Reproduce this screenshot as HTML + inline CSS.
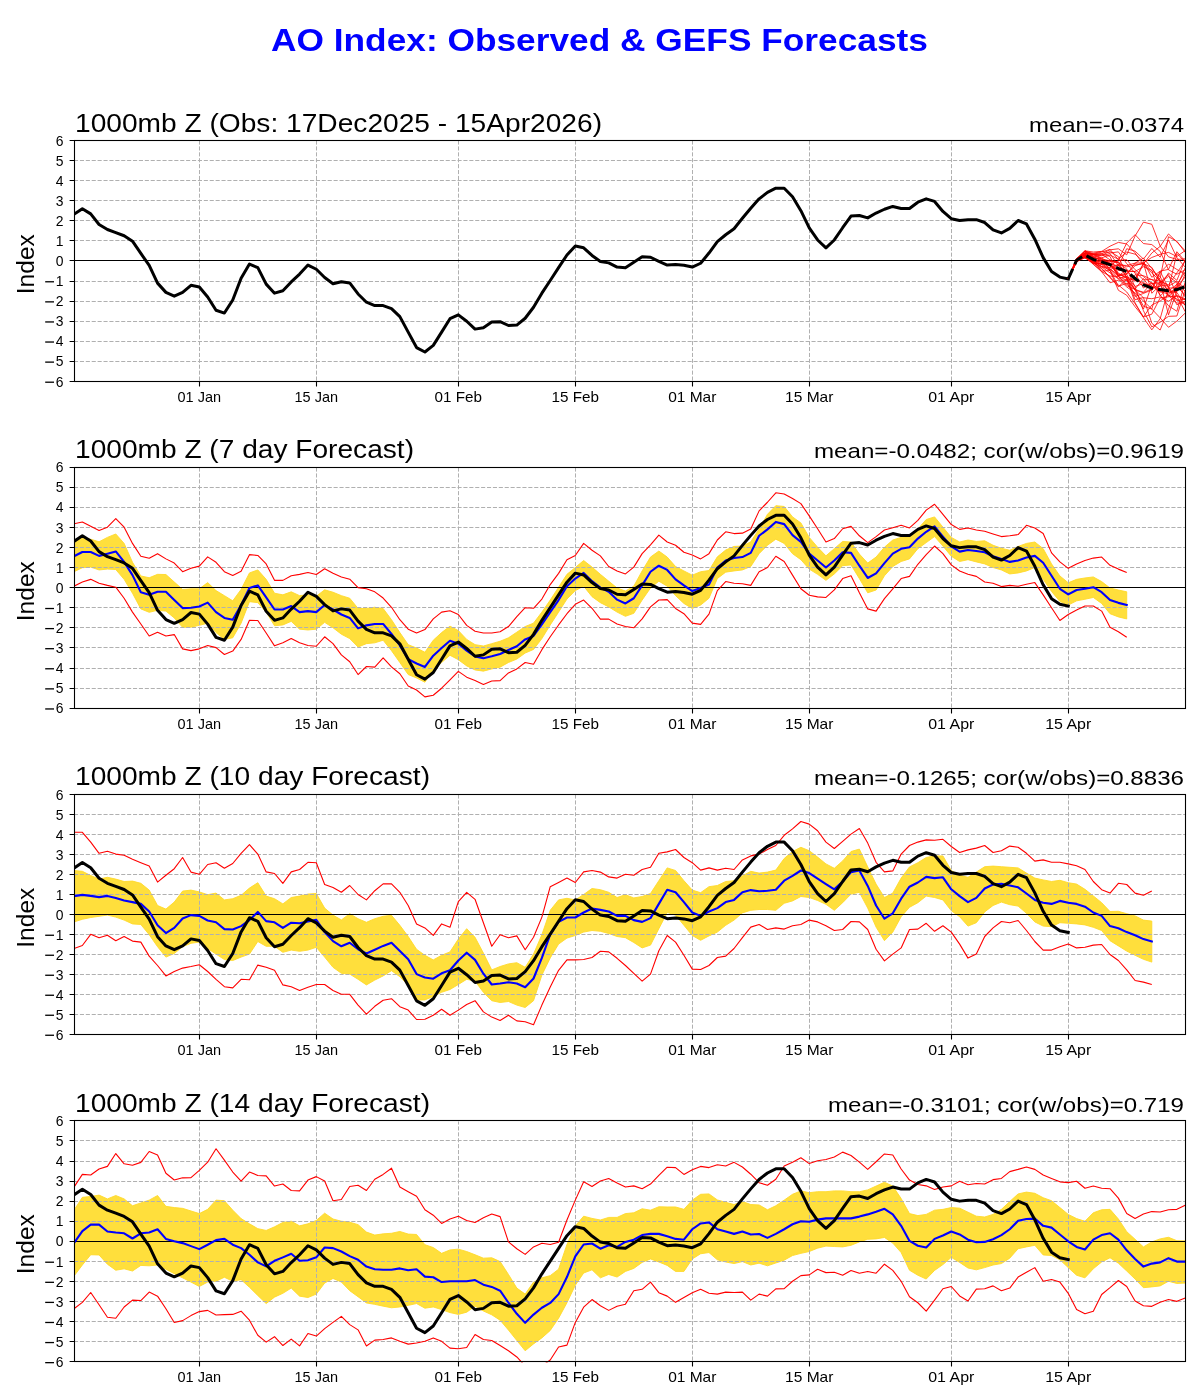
<!DOCTYPE html><html><head><meta charset="utf-8"><style>html,body{margin:0;padding:0;background:#fff;}svg{display:block;will-change:transform;}</style></head><body>
<svg width="1200" height="1400" viewBox="0 0 1200 1400" font-family='"Liberation Sans", sans-serif'>
<rect width="1200" height="1400" fill="#fff"/>
<text x="599.5" y="51" text-anchor="middle" font-size="30.6" font-weight="bold" fill="#0000ff" textLength="657" lengthAdjust="spacingAndGlyphs">AO Index: Observed &amp; GEFS Forecasts</text>
<text x="75.00" y="132.00" font-size="25" fill="#000" textLength="527.00" lengthAdjust="spacingAndGlyphs">1000mb Z (Obs: 17Dec2025 - 15Apr2026)</text>
<text x="1029.00" y="132.00" font-size="20.83" fill="#000" textLength="155.00" lengthAdjust="spacingAndGlyphs">mean=-0.0374</text>
<text transform="translate(34,264.2) rotate(-90)" text-anchor="middle" font-size="23.5" fill="#000" textLength="60" lengthAdjust="spacingAndGlyphs">Index</text>
<clipPath id="c0"><rect x="74.0" y="140.95" width="1111.2" height="241.00"/></clipPath>
<g clip-path="url(#c0)">
<path d="M74.0,361.5H1185.2M74.0,341.5H1185.2M74.0,321.5H1185.2M74.0,301.5H1185.2M74.0,281.5H1185.2M74.0,240.5H1185.2M74.0,220.5H1185.2M74.0,200.5H1185.2M74.0,180.5H1185.2M74.0,160.5H1185.2M199.5,140.5V381.5M316.5,140.5V381.5M458.5,140.5V381.5M575.5,140.5V381.5M692.5,140.5V381.5M809.5,140.5V381.5M951.5,140.5V381.5M1068.5,140.5V381.5" stroke="#b0b0b0" stroke-width="1.0" stroke-dasharray="4.1,1.8" fill="none"/>
<path d="M74.0,260.5H1185.2" stroke="#000" stroke-width="1.0" fill="none"/>
<path d="M74.00,214.28 L82.36,208.66 L90.71,213.87 L99.06,224.51 L107.42,229.53 L115.78,232.54 L124.13,235.76 L132.49,241.18 L140.84,253.42 L149.19,265.47 L157.55,283.13 L165.91,292.37 L174.26,296.18 L182.62,292.37 L190.97,285.34 L199.32,286.95 L207.68,296.99 L216.03,310.23 L224.39,313.05 L232.75,300.00 L241.10,278.32 L249.46,264.06 L257.81,267.68 L266.17,284.14 L274.52,293.17 L282.88,290.76 L291.23,281.93 L299.59,274.10 L307.94,265.07 L316.30,269.28 L324.65,277.51 L333.00,283.74 L341.36,281.73 L349.72,282.93 L358.07,293.97 L366.43,302.20 L374.78,305.62 L383.13,305.62 L391.49,308.63 L399.85,316.66 L408.20,332.12 L416.56,347.57 L424.91,351.99 L433.27,345.37 L441.62,332.12 L449.98,318.67 L458.33,314.85 L466.69,321.28 L475.04,329.11 L483.40,327.70 L491.75,322.08 L500.11,321.68 L508.46,325.49 L516.82,325.09 L525.17,318.26 L533.53,307.22 L541.88,293.17 L550.24,280.52 L558.59,267.68 L566.95,255.03 L575.30,245.99 L583.65,247.80 L592.01,255.43 L600.37,261.45 L608.72,262.86 L617.08,267.07 L625.43,267.68 L633.79,262.26 L642.14,256.84 L650.50,257.24 L658.85,261.45 L667.21,265.07 L675.56,264.46 L683.92,265.27 L692.27,267.07 L700.62,263.26 L708.98,253.02 L717.34,241.58 L725.69,234.75 L734.05,228.73 L742.40,218.29 L750.75,208.25 L759.11,198.82 L767.47,192.39 L775.82,188.18 L784.18,188.18 L792.53,196.81 L800.88,210.66 L809.24,227.93 L817.60,239.97 L825.95,247.80 L834.31,239.97 L842.66,227.73 L851.01,216.08 L859.37,215.48 L867.73,217.89 L876.08,213.07 L884.44,209.26 L892.79,206.45 L901.15,208.45 L909.50,208.45 L917.86,202.23 L926.21,198.82 L934.57,201.43 L942.92,211.47 L951.28,218.69 L959.63,220.50 L967.99,219.70 L976.34,219.70 L984.70,222.51 L993.05,229.93 L1001.41,232.95 L1009.76,228.33 L1018.12,220.50 L1026.47,223.91 L1034.83,239.17 L1043.18,257.64 L1051.54,271.49 L1059.89,277.11 L1068.24,278.92" stroke="#000" stroke-width="3" fill="none" stroke-linejoin="round" stroke-linecap="square"/>
<path d="M1068.24,278.92 L1076.60,260.07 L1084.95,255.55 L1093.31,263.25 L1101.66,266.65 L1110.02,267.62 L1118.38,264.30 L1126.73,277.32 L1135.09,296.46 L1143.44,293.43 L1151.80,289.90 L1160.15,272.55 L1168.51,264.05 L1176.86,269.48 L1185.22,274.15" stroke="#ff0000" stroke-width="0.8" fill="none" stroke-linejoin="round"/>
<path d="M1068.24,278.92 L1076.60,259.40 L1084.95,255.36 L1093.31,259.59 L1101.66,261.51 L1110.02,266.02 L1118.38,270.31 L1126.73,271.07 L1135.09,271.44 L1143.44,266.69 L1151.80,270.34 L1160.15,296.11 L1168.51,287.39 L1176.86,304.82 L1185.22,301.12" stroke="#ff0000" stroke-width="0.8" fill="none" stroke-linejoin="round"/>
<path d="M1068.24,278.92 L1076.60,261.72 L1084.95,257.41 L1093.31,254.22 L1101.66,255.76 L1110.02,253.58 L1118.38,265.63 L1126.73,271.03 L1135.09,271.70 L1143.44,279.81 L1151.80,279.58 L1160.15,281.10 L1168.51,296.38 L1176.86,286.92 L1185.22,294.91" stroke="#ff0000" stroke-width="0.8" fill="none" stroke-linejoin="round"/>
<path d="M1068.24,278.92 L1076.60,258.89 L1084.95,252.49 L1093.31,254.25 L1101.66,257.79 L1110.02,255.06 L1118.38,259.24 L1126.73,252.01 L1135.09,254.16 L1143.44,261.49 L1151.80,277.28 L1160.15,271.15 L1168.51,269.38 L1176.86,251.69 L1185.22,261.22" stroke="#ff0000" stroke-width="0.8" fill="none" stroke-linejoin="round"/>
<path d="M1068.24,278.92 L1076.60,259.41 L1084.95,253.11 L1093.31,256.81 L1101.66,260.86 L1110.02,268.68 L1118.38,275.31 L1126.73,273.41 L1135.09,265.76 L1143.44,262.87 L1151.80,257.46 L1160.15,254.35 L1168.51,252.35 L1176.86,256.51 L1185.22,250.55" stroke="#ff0000" stroke-width="0.8" fill="none" stroke-linejoin="round"/>
<path d="M1068.24,278.92 L1076.60,259.84 L1084.95,250.97 L1093.31,254.22 L1101.66,252.07 L1110.02,249.29 L1118.38,259.90 L1126.73,243.07 L1135.09,234.65 L1143.44,243.55 L1151.80,244.59 L1160.15,251.34 L1168.51,269.84 L1176.86,274.24 L1185.22,269.76" stroke="#ff0000" stroke-width="0.8" fill="none" stroke-linejoin="round"/>
<path d="M1068.24,278.92 L1076.60,259.11 L1084.95,250.61 L1093.31,256.23 L1101.66,255.13 L1110.02,251.51 L1118.38,256.63 L1126.73,274.44 L1135.09,290.03 L1143.44,292.73 L1151.80,288.69 L1160.15,271.36 L1168.51,288.18 L1176.86,287.46 L1185.22,276.87" stroke="#ff0000" stroke-width="0.8" fill="none" stroke-linejoin="round"/>
<path d="M1068.24,278.92 L1076.60,261.13 L1084.95,252.78 L1093.31,254.46 L1101.66,259.18 L1110.02,263.76 L1118.38,266.06 L1126.73,248.71 L1135.09,251.13 L1143.44,259.06 L1151.80,248.47 L1160.15,257.13 L1168.51,239.98 L1176.86,257.60 L1185.22,267.18" stroke="#ff0000" stroke-width="0.8" fill="none" stroke-linejoin="round"/>
<path d="M1068.24,278.92 L1076.60,258.51 L1084.95,251.27 L1093.31,259.54 L1101.66,264.54 L1110.02,270.76 L1118.38,278.40 L1126.73,276.50 L1135.09,286.46 L1143.44,283.56 L1151.80,286.04 L1160.15,291.79 L1168.51,291.14 L1176.86,284.44 L1185.22,271.80" stroke="#ff0000" stroke-width="0.8" fill="none" stroke-linejoin="round"/>
<path d="M1068.24,278.92 L1076.60,261.66 L1084.95,254.96 L1093.31,255.87 L1101.66,258.22 L1110.02,263.01 L1118.38,274.93 L1126.73,276.48 L1135.09,281.23 L1143.44,263.73 L1151.80,267.42 L1160.15,281.47 L1168.51,314.89 L1176.86,291.03 L1185.22,285.53" stroke="#ff0000" stroke-width="0.8" fill="none" stroke-linejoin="round"/>
<path d="M1068.24,278.92 L1076.60,262.30 L1084.95,252.99 L1093.31,254.42 L1101.66,253.75 L1110.02,256.48 L1118.38,274.07 L1126.73,278.06 L1135.09,299.68 L1143.44,297.52 L1151.80,323.25 L1160.15,330.05 L1168.51,309.35 L1176.86,283.64 L1185.22,296.95" stroke="#ff0000" stroke-width="0.8" fill="none" stroke-linejoin="round"/>
<path d="M1068.24,278.92 L1076.60,260.07 L1084.95,256.36 L1093.31,262.64 L1101.66,268.19 L1110.02,277.78 L1118.38,286.73 L1126.73,279.29 L1135.09,279.21 L1143.44,263.27 L1151.80,270.84 L1160.15,276.61 L1168.51,292.31 L1176.86,292.36 L1185.22,305.60" stroke="#ff0000" stroke-width="0.8" fill="none" stroke-linejoin="round"/>
<path d="M1068.24,278.92 L1076.60,259.90 L1084.95,252.97 L1093.31,253.88 L1101.66,254.26 L1110.02,259.80 L1118.38,262.81 L1126.73,268.95 L1135.09,286.83 L1143.44,310.77 L1151.80,326.93 L1160.15,322.28 L1168.51,316.34 L1176.86,316.02 L1185.22,289.85" stroke="#ff0000" stroke-width="0.8" fill="none" stroke-linejoin="round"/>
<path d="M1068.24,278.92 L1076.60,258.92 L1084.95,253.93 L1093.31,262.94 L1101.66,263.33 L1110.02,269.80 L1118.38,265.17 L1126.73,265.45 L1135.09,263.13 L1143.44,262.82 L1151.80,293.28 L1160.15,285.21 L1168.51,295.62 L1176.86,303.01 L1185.22,303.01" stroke="#ff0000" stroke-width="0.8" fill="none" stroke-linejoin="round"/>
<path d="M1068.24,278.92 L1076.60,258.53 L1084.95,254.62 L1093.31,260.41 L1101.66,271.59 L1110.02,276.09 L1118.38,276.47 L1126.73,285.65 L1135.09,289.48 L1143.44,292.30 L1151.80,282.84 L1160.15,294.98 L1168.51,305.80 L1176.86,311.24 L1185.22,281.93" stroke="#ff0000" stroke-width="0.8" fill="none" stroke-linejoin="round"/>
<path d="M1068.24,278.92 L1076.60,259.48 L1084.95,253.41 L1093.31,257.11 L1101.66,259.80 L1110.02,264.05 L1118.38,276.16 L1126.73,284.35 L1135.09,274.72 L1143.44,275.70 L1151.80,279.61 L1160.15,284.95 L1168.51,286.10 L1176.86,281.36 L1185.22,288.36" stroke="#ff0000" stroke-width="0.8" fill="none" stroke-linejoin="round"/>
<path d="M1068.24,278.92 L1076.60,260.53 L1084.95,256.88 L1093.31,263.97 L1101.66,271.13 L1110.02,270.55 L1118.38,290.28 L1126.73,295.24 L1135.09,306.76 L1143.44,317.08 L1151.80,314.17 L1160.15,297.88 L1168.51,296.79 L1176.86,296.15 L1185.22,299.77" stroke="#ff0000" stroke-width="0.8" fill="none" stroke-linejoin="round"/>
<path d="M1068.24,278.92 L1076.60,260.08 L1084.95,256.66 L1093.31,264.35 L1101.66,271.74 L1110.02,282.77 L1118.38,280.17 L1126.73,280.14 L1135.09,288.94 L1143.44,278.50 L1151.80,290.24 L1160.15,282.25 L1168.51,274.49 L1176.86,296.10 L1185.22,311.67" stroke="#ff0000" stroke-width="0.8" fill="none" stroke-linejoin="round"/>
<path d="M1068.24,278.92 L1076.60,259.36 L1084.95,255.44 L1093.31,257.39 L1101.66,260.77 L1110.02,265.44 L1118.38,272.94 L1126.73,278.56 L1135.09,302.69 L1143.44,317.55 L1151.80,329.83 L1160.15,318.75 L1168.51,288.86 L1176.86,253.49 L1185.22,262.15" stroke="#ff0000" stroke-width="0.8" fill="none" stroke-linejoin="round"/>
<path d="M1068.24,278.92 L1076.60,262.22 L1084.95,255.37 L1093.31,258.46 L1101.66,263.31 L1110.02,261.56 L1118.38,261.67 L1126.73,278.07 L1135.09,289.83 L1143.44,297.72 L1151.80,298.73 L1160.15,296.87 L1168.51,301.19 L1176.86,295.50 L1185.22,298.92" stroke="#ff0000" stroke-width="0.8" fill="none" stroke-linejoin="round"/>
<path d="M1068.24,278.92 L1076.60,259.66 L1084.95,253.20 L1093.31,261.20 L1101.66,264.56 L1110.02,263.55 L1118.38,275.86 L1126.73,269.80 L1135.09,280.68 L1143.44,282.52 L1151.80,287.63 L1160.15,286.49 L1168.51,272.97 L1176.86,280.42 L1185.22,259.65" stroke="#ff0000" stroke-width="0.8" fill="none" stroke-linejoin="round"/>
<path d="M1068.24,278.92 L1076.60,260.75 L1084.95,257.77 L1093.31,263.47 L1101.66,263.41 L1110.02,260.28 L1118.38,275.65 L1126.73,274.44 L1135.09,263.14 L1143.44,258.15 L1151.80,268.27 L1160.15,280.05 L1168.51,286.53 L1176.86,300.75 L1185.22,299.05" stroke="#ff0000" stroke-width="0.8" fill="none" stroke-linejoin="round"/>
<path d="M1068.24,278.92 L1076.60,259.59 L1084.95,254.19 L1093.31,262.00 L1101.66,261.13 L1110.02,269.28 L1118.38,276.27 L1126.73,280.29 L1135.09,290.12 L1143.44,306.26 L1151.80,309.00 L1160.15,280.81 L1168.51,291.09 L1176.86,291.54 L1185.22,274.12" stroke="#ff0000" stroke-width="0.8" fill="none" stroke-linejoin="round"/>
<path d="M1068.24,278.92 L1076.60,258.72 L1084.95,255.50 L1093.31,262.07 L1101.66,264.54 L1110.02,265.15 L1118.38,260.41 L1126.73,259.66 L1135.09,269.68 L1143.44,276.56 L1151.80,283.49 L1160.15,282.66 L1168.51,276.44 L1176.86,282.40 L1185.22,291.31" stroke="#ff0000" stroke-width="0.8" fill="none" stroke-linejoin="round"/>
<path d="M1068.24,278.92 L1076.60,259.21 L1084.95,251.43 L1093.31,253.27 L1101.66,251.43 L1110.02,253.00 L1118.38,251.86 L1126.73,263.67 L1135.09,273.11 L1143.44,288.03 L1151.80,282.44 L1160.15,291.74 L1168.51,293.96 L1176.86,287.05 L1185.22,267.61" stroke="#ff0000" stroke-width="0.8" fill="none" stroke-linejoin="round"/>
<path d="M1068.24,278.92 L1076.60,260.69 L1084.95,257.72 L1093.31,261.43 L1101.66,266.29 L1110.02,270.17 L1118.38,286.31 L1126.73,283.28 L1135.09,294.44 L1143.44,309.01 L1151.80,284.71 L1160.15,278.08 L1168.51,236.75 L1176.86,241.19 L1185.22,252.45" stroke="#ff0000" stroke-width="0.8" fill="none" stroke-linejoin="round"/>
<path d="M1068.24,278.92 L1076.60,259.85 L1084.95,253.82 L1093.31,254.83 L1101.66,253.82 L1110.02,249.81 L1118.38,248.81 L1126.73,254.83 L1135.09,235.96 L1143.44,222.11 L1151.80,224.31 L1160.15,245.99 L1168.51,256.84 L1176.86,259.44 L1185.22,258.84" stroke="#ff0000" stroke-width="0.8" fill="none" stroke-linejoin="round"/>
<path d="M1068.24,278.92 L1076.60,260.85 L1084.95,256.84 L1093.31,257.84 L1101.66,258.84 L1110.02,260.85 L1118.38,262.86 L1126.73,266.87 L1135.09,264.87 L1143.44,263.86 L1151.80,253.02 L1160.15,246.40 L1168.51,233.95 L1176.86,241.98 L1185.22,250.81" stroke="#ff0000" stroke-width="0.8" fill="none" stroke-linejoin="round"/>
<path d="M1068.24,278.92 L1076.60,260.85 L1084.95,257.84 L1093.31,262.86 L1101.66,268.88 L1110.02,276.91 L1118.38,284.94 L1126.73,291.97 L1135.09,303.81 L1143.44,316.86 L1151.80,305.02 L1160.15,301.00 L1168.51,294.98 L1176.86,298.99 L1185.22,305.02" stroke="#ff0000" stroke-width="0.8" fill="none" stroke-linejoin="round"/>
<path d="M1068.24,278.92 L1076.60,259.85 L1084.95,256.84 L1093.31,260.85 L1101.66,266.87 L1110.02,272.90 L1118.38,278.92 L1126.73,286.95 L1135.09,292.97 L1143.44,301.00 L1151.80,309.03 L1160.15,317.86 L1168.51,327.30 L1176.86,321.08 L1185.22,313.05" stroke="#ff0000" stroke-width="0.8" fill="none" stroke-linejoin="round"/>
<path d="M1068.24,278.92 L1076.60,258.84 L1084.95,250.81 L1093.31,252.02 L1101.66,251.41 L1110.02,246.20 L1118.38,242.38 L1126.73,243.99 L1135.09,252.82 L1143.44,264.87 L1151.80,272.90 L1160.15,280.93 L1168.51,284.94 L1176.86,272.90 L1185.22,260.85" stroke="#ff0000" stroke-width="0.8" fill="none" stroke-linejoin="round"/>
<path d="M1068.24,278.92 L1076.60,260.25 L1084.95,255.03 L1093.31,259.44 L1101.66,261.85 L1110.02,264.66 L1118.38,268.48 L1126.73,271.49 L1135.09,278.52 L1143.44,284.94 L1151.80,288.15 L1160.15,289.56 L1168.51,290.76 L1176.86,289.56 L1185.22,286.75" stroke="#000" stroke-width="3" fill="none" stroke-dasharray="11,5" stroke-linejoin="round"/>
</g>
<rect x="74.5" y="140.5" width="1111" height="241.0" fill="none" stroke="#000" stroke-width="1.1"/>
<path d="M74.5,381.5h-4.9M74.5,361.5h-4.9M74.5,341.5h-4.9M74.5,321.5h-4.9M74.5,301.5h-4.9M74.5,281.5h-4.9M74.5,260.5h-4.9M74.5,240.5h-4.9M74.5,220.5h-4.9M74.5,200.5h-4.9M74.5,180.5h-4.9M74.5,160.5h-4.9M74.5,140.5h-4.9M199.5,381.5v4.9M316.5,381.5v4.9M458.5,381.5v4.9M575.5,381.5v4.9M692.5,381.5v4.9M809.5,381.5v4.9M951.5,381.5v4.9M1068.5,381.5v4.9" stroke="#000" stroke-width="1.1" fill="none"/>
<text x="63.6" y="386.50" font-size="13.9" text-anchor="end" fill="#000">6</text>
<rect x="45.2" y="381.55" width="8.8" height="1.3" fill="#000"/>
<text x="63.6" y="366.42" font-size="13.9" text-anchor="end" fill="#000">5</text>
<rect x="45.2" y="361.47" width="8.8" height="1.3" fill="#000"/>
<text x="63.6" y="346.33" font-size="13.9" text-anchor="end" fill="#000">4</text>
<rect x="45.2" y="341.38" width="8.8" height="1.3" fill="#000"/>
<text x="63.6" y="326.25" font-size="13.9" text-anchor="end" fill="#000">3</text>
<rect x="45.2" y="321.30" width="8.8" height="1.3" fill="#000"/>
<text x="63.6" y="306.17" font-size="13.9" text-anchor="end" fill="#000">2</text>
<rect x="45.2" y="301.22" width="8.8" height="1.3" fill="#000"/>
<text x="63.6" y="286.08" font-size="13.9" text-anchor="end" fill="#000">1</text>
<rect x="45.2" y="281.13" width="8.8" height="1.3" fill="#000"/>
<text x="63.6" y="266.00" font-size="13.9" text-anchor="end" fill="#000">0</text>
<text x="63.6" y="245.92" font-size="13.9" text-anchor="end" fill="#000">1</text>
<text x="63.6" y="225.83" font-size="13.9" text-anchor="end" fill="#000">2</text>
<text x="63.6" y="205.75" font-size="13.9" text-anchor="end" fill="#000">3</text>
<text x="63.6" y="185.67" font-size="13.9" text-anchor="end" fill="#000">4</text>
<text x="63.6" y="165.59" font-size="13.9" text-anchor="end" fill="#000">5</text>
<text x="63.6" y="145.50" font-size="13.9" text-anchor="end" fill="#000">6</text>
<text x="199.32" y="401.80" font-size="13.9" text-anchor="middle" fill="#000" textLength="43.50" lengthAdjust="spacingAndGlyphs">01 Jan</text>
<text x="316.30" y="401.80" font-size="13.9" text-anchor="middle" fill="#000" textLength="43.50" lengthAdjust="spacingAndGlyphs">15 Jan</text>
<text x="458.33" y="401.80" font-size="13.9" text-anchor="middle" fill="#000" textLength="47.44" lengthAdjust="spacingAndGlyphs">01 Feb</text>
<text x="575.30" y="401.80" font-size="13.9" text-anchor="middle" fill="#000" textLength="47.44" lengthAdjust="spacingAndGlyphs">15 Feb</text>
<text x="692.27" y="401.80" font-size="13.9" text-anchor="middle" fill="#000" textLength="48.29" lengthAdjust="spacingAndGlyphs">01 Mar</text>
<text x="809.24" y="401.80" font-size="13.9" text-anchor="middle" fill="#000" textLength="48.29" lengthAdjust="spacingAndGlyphs">15 Mar</text>
<text x="951.28" y="401.80" font-size="13.9" text-anchor="middle" fill="#000" textLength="46.12" lengthAdjust="spacingAndGlyphs">01 Apr</text>
<text x="1068.24" y="401.80" font-size="13.9" text-anchor="middle" fill="#000" textLength="46.12" lengthAdjust="spacingAndGlyphs">15 Apr</text>
<text x="75.00" y="457.80" font-size="25" fill="#000" textLength="339.00" lengthAdjust="spacingAndGlyphs">1000mb Z (7 day Forecast)</text>
<text x="814.00" y="457.80" font-size="20.83" fill="#000" textLength="370.00" lengthAdjust="spacingAndGlyphs">mean=-0.0482; cor(w/obs)=0.9619</text>
<text transform="translate(34,591.2) rotate(-90)" text-anchor="middle" font-size="23.5" fill="#000" textLength="60" lengthAdjust="spacingAndGlyphs">Index</text>
<clipPath id="c1"><rect x="74.0" y="467.70" width="1111.2" height="241.00"/></clipPath>
<g clip-path="url(#c1)">
<path d="M74.00,541.81 L82.36,537.39 L90.71,539.20 L99.06,541.81 L107.42,537.39 L115.78,533.98 L124.13,543.42 L132.49,562.29 L140.84,575.95 L149.19,577.76 L157.55,574.34 L165.91,574.54 L174.26,581.98 L182.62,589.41 L190.97,588.80 L199.32,588.80 L207.68,582.58 L216.03,590.61 L224.39,595.63 L232.75,600.85 L241.10,589.41 L249.46,572.94 L257.81,569.93 L266.17,579.36 L274.52,593.22 L282.88,594.83 L291.23,591.82 L299.59,595.63 L307.94,594.83 L316.30,596.23 L324.65,589.81 L333.00,592.22 L341.36,595.63 L349.72,598.24 L358.07,608.48 L366.43,608.48 L374.78,607.28 L383.13,608.48 L391.49,619.73 L399.85,632.58 L408.20,644.63 L416.56,648.05 L424.91,652.27 L433.27,640.22 L441.62,632.58 L449.98,626.16 L458.33,630.58 L466.69,639.41 L475.04,644.63 L483.40,646.04 L491.75,643.63 L500.11,641.22 L508.46,637.81 L516.82,632.18 L525.17,626.56 L533.53,623.15 L541.88,612.10 L550.24,600.05 L558.59,587.20 L566.95,574.34 L575.30,567.52 L583.65,560.49 L592.01,567.11 L600.37,574.34 L608.72,581.17 L617.08,588.00 L625.43,591.01 L633.79,586.19 L642.14,570.93 L650.50,557.07 L658.85,551.05 L667.21,557.07 L675.56,566.51 L683.92,570.93 L692.27,575.15 L700.62,571.73 L708.98,570.53 L717.34,556.87 L725.69,550.04 L734.05,546.43 L742.40,546.03 L750.75,541.81 L759.11,528.96 L767.47,514.30 L775.82,505.66 L784.18,506.46 L792.53,516.91 L800.88,522.93 L809.24,537.39 L817.60,547.23 L825.95,555.87 L834.31,548.64 L842.66,541.41 L851.01,542.01 L859.37,554.06 L867.73,563.10 L876.08,557.07 L884.44,547.23 L892.79,540.00 L901.15,537.39 L909.50,536.59 L917.86,528.96 L926.21,519.52 L934.57,516.91 L942.92,527.15 L951.28,537.39 L959.63,542.01 L967.99,540.00 L976.34,541.41 L984.70,540.80 L993.05,545.22 L1001.41,548.24 L1009.76,550.24 L1018.12,546.43 L1026.47,543.42 L1034.83,542.01 L1043.18,548.64 L1051.54,563.90 L1059.89,575.95 L1068.24,582.78 L1076.60,579.36 L1084.95,577.96 L1093.31,576.95 L1101.66,581.57 L1110.02,588.00 L1118.38,590.01 L1126.73,591.82 L1126.73,618.93 L1118.38,616.92 L1110.02,613.71 L1101.66,603.46 L1093.31,597.44 L1084.95,599.25 L1076.60,600.85 L1068.24,605.07 L1059.89,601.46 L1051.54,591.41 L1043.18,579.36 L1034.83,567.52 L1026.47,570.93 L1018.12,572.94 L1009.76,573.94 L1001.41,569.93 L993.05,567.52 L984.70,563.90 L976.34,561.89 L967.99,559.68 L959.63,561.49 L951.28,556.27 L942.92,546.03 L934.57,536.59 L926.21,542.61 L917.86,548.64 L909.50,558.88 L901.15,561.49 L892.79,566.51 L884.44,575.75 L876.08,590.01 L867.73,592.82 L859.37,578.56 L851.01,564.90 L842.66,565.71 L834.31,573.94 L825.95,580.37 L817.60,574.34 L809.24,569.12 L800.88,559.68 L792.53,553.66 L784.18,543.42 L775.82,539.20 L767.47,545.22 L759.11,553.66 L750.75,566.51 L742.40,569.93 L734.05,570.93 L725.69,572.13 L717.34,578.56 L708.98,598.24 L700.62,605.07 L692.27,608.48 L683.92,603.46 L675.56,595.63 L667.21,586.19 L658.85,581.17 L650.50,588.00 L642.14,600.05 L633.79,613.30 L625.43,616.32 L617.08,612.10 L608.72,606.88 L600.37,602.66 L592.01,596.64 L583.65,586.19 L575.30,590.61 L566.95,599.05 L558.59,612.10 L550.24,624.95 L541.88,638.61 L533.53,649.45 L525.17,653.07 L516.82,659.09 L508.46,662.51 L500.11,667.13 L491.75,668.93 L483.40,671.14 L475.04,669.94 L466.69,665.92 L458.33,659.70 L449.98,655.28 L441.62,662.51 L433.27,670.34 L424.91,682.19 L416.56,677.97 L408.20,674.56 L399.85,662.51 L391.49,650.66 L383.13,640.22 L374.78,642.83 L366.43,643.63 L358.07,647.04 L349.72,638.61 L341.36,634.19 L333.00,627.76 L324.65,622.34 L316.30,629.17 L307.94,629.97 L299.59,629.17 L291.23,621.34 L282.88,624.95 L274.52,625.76 L266.17,612.10 L257.81,602.66 L249.46,601.66 L241.10,623.15 L232.75,637.81 L224.39,639.41 L216.03,632.58 L207.68,623.15 L199.32,625.35 L190.97,627.16 L182.62,627.36 L174.26,617.92 L165.91,611.10 L157.55,610.29 L149.19,612.30 L140.84,608.89 L132.49,593.22 L124.13,579.36 L115.78,569.52 L107.42,569.12 L99.06,569.93 L90.71,567.11 L82.36,567.72 L74.00,571.73 Z" fill="#ffdf3c" stroke="#ffd92a" stroke-width="0.9"/>
<path d="M74.0,688.5H1185.2M74.0,668.5H1185.2M74.0,647.5H1185.2M74.0,627.5H1185.2M74.0,607.5H1185.2M74.0,567.5H1185.2M74.0,547.5H1185.2M74.0,527.5H1185.2M74.0,507.5H1185.2M74.0,487.5H1185.2M199.5,467.5V708.5M316.5,467.5V708.5M458.5,467.5V708.5M575.5,467.5V708.5M692.5,467.5V708.5M809.5,467.5V708.5M951.5,467.5V708.5M1068.5,467.5V708.5" stroke="#b0b0b0" stroke-width="1.0" stroke-dasharray="4.1,1.8" fill="none"/>
<path d="M74.0,587.5H1185.2" stroke="#000" stroke-width="1.0" fill="none"/>
<path d="M74.00,523.73 L82.36,521.93 L90.71,526.35 L99.06,530.56 L107.42,527.15 L115.78,518.51 L124.13,527.15 L132.49,543.42 L140.84,556.27 L149.19,558.28 L157.55,553.66 L165.91,558.88 L174.26,563.10 L182.62,571.73 L190.97,568.32 L199.32,566.11 L207.68,556.87 L216.03,562.29 L224.39,571.73 L232.75,575.55 L241.10,571.33 L249.46,554.66 L257.81,555.47 L266.17,563.90 L274.52,580.37 L282.88,580.37 L291.23,575.75 L299.59,574.34 L307.94,572.54 L316.30,574.54 L324.65,568.72 L333.00,573.34 L341.36,576.95 L349.72,579.16 L358.07,587.60 L366.43,588.80 L374.78,591.82 L383.13,598.04 L391.49,607.28 L399.85,619.73 L408.20,629.17 L416.56,632.99 L424.91,629.57 L433.27,618.93 L441.62,612.10 L449.98,610.69 L458.33,614.51 L466.69,625.35 L475.04,631.18 L483.40,632.99 L491.75,632.99 L500.11,631.78 L508.46,626.56 L516.82,616.72 L525.17,607.68 L533.53,608.28 L541.88,599.05 L550.24,584.59 L558.59,573.34 L566.95,559.68 L575.30,555.47 L583.65,543.42 L592.01,550.24 L600.37,555.87 L608.72,566.51 L617.08,570.93 L625.43,573.94 L633.79,567.11 L642.14,553.66 L650.50,544.82 L658.85,535.18 L667.21,542.01 L675.56,545.22 L683.92,552.25 L692.27,555.06 L700.62,558.88 L708.98,553.66 L717.34,540.00 L725.69,531.77 L734.05,533.58 L742.40,533.17 L750.75,528.96 L759.11,510.88 L767.47,502.25 L775.82,492.81 L784.18,494.01 L792.53,498.43 L800.88,503.65 L809.24,515.90 L817.60,528.76 L825.95,542.01 L834.31,538.60 L842.66,528.76 L851.01,526.35 L859.37,535.78 L867.73,542.61 L876.08,536.59 L884.44,529.96 L892.79,527.75 L901.15,525.34 L909.50,527.95 L917.86,520.32 L926.21,510.08 L934.57,504.25 L942.92,514.30 L951.28,524.54 L959.63,529.36 L967.99,527.95 L976.34,529.96 L984.70,531.17 L993.05,533.98 L1001.41,536.59 L1009.76,535.78 L1018.12,534.58 L1026.47,525.34 L1034.83,527.95 L1043.18,533.58 L1051.54,552.85 L1059.89,561.89 L1068.24,568.32 L1076.60,563.90 L1084.95,560.49 L1093.31,558.08 L1101.66,557.07 L1110.02,565.31 L1118.38,569.12 L1126.73,572.54" stroke="#ff0000" stroke-width="1.1" fill="none" stroke-linejoin="round"/>
<path d="M74.00,586.19 L82.36,581.98 L90.71,579.36 L99.06,583.18 L107.42,585.39 L115.78,587.20 L124.13,598.24 L132.49,612.10 L140.84,623.95 L149.19,636.00 L157.55,632.18 L165.91,636.00 L174.26,634.59 L182.62,648.85 L190.97,650.66 L199.32,648.85 L207.68,645.44 L216.03,647.65 L224.39,654.47 L232.75,651.06 L241.10,639.41 L249.46,620.33 L257.81,620.53 L266.17,632.99 L274.52,645.84 L282.88,642.83 L291.23,638.61 L299.59,642.83 L307.94,645.44 L316.30,646.24 L324.65,636.80 L333.00,643.63 L341.36,654.88 L349.72,661.70 L358.07,674.56 L366.43,666.52 L374.78,667.13 L383.13,657.89 L391.49,666.93 L399.85,673.75 L408.20,686.01 L416.56,690.02 L424.91,696.85 L433.27,695.24 L441.62,688.21 L449.98,679.78 L458.33,671.34 L466.69,677.17 L475.04,680.58 L483.40,684.40 L491.75,680.98 L500.11,680.58 L508.46,672.95 L516.82,668.93 L525.17,662.51 L533.53,664.32 L541.88,649.65 L550.24,636.80 L558.59,624.95 L566.95,613.71 L575.30,604.27 L583.65,600.05 L592.01,608.28 L600.37,619.13 L608.72,619.13 L617.08,623.95 L625.43,626.56 L633.79,627.76 L642.14,618.93 L650.50,606.88 L658.85,600.05 L667.21,599.65 L675.56,608.48 L683.92,613.71 L692.27,623.15 L700.62,624.35 L708.98,614.11 L717.34,590.61 L725.69,581.57 L734.05,583.18 L742.40,583.78 L750.75,585.39 L759.11,571.73 L767.47,567.52 L775.82,556.27 L784.18,561.49 L792.53,575.15 L800.88,588.80 L809.24,595.23 L817.60,596.84 L825.95,597.44 L834.31,589.81 L842.66,578.56 L851.01,575.75 L859.37,592.82 L867.73,608.89 L876.08,611.10 L884.44,598.64 L892.79,588.80 L901.15,578.56 L909.50,576.35 L917.86,564.30 L926.21,554.66 L934.57,546.03 L942.92,553.66 L951.28,564.90 L959.63,570.93 L967.99,574.34 L976.34,576.35 L984.70,581.98 L993.05,583.18 L1001.41,586.59 L1009.76,585.39 L1018.12,586.19 L1026.47,584.18 L1034.83,582.58 L1043.18,594.83 L1051.54,607.68 L1059.89,620.53 L1068.24,614.51 L1076.60,610.09 L1084.95,606.07 L1093.31,606.07 L1101.66,611.10 L1110.02,627.36 L1118.38,631.78 L1126.73,637.20" stroke="#ff0000" stroke-width="1.1" fill="none" stroke-linejoin="round"/>
<path d="M74.00,556.27 L82.36,552.05 L90.71,552.05 L99.06,555.87 L107.42,553.66 L115.78,551.45 L124.13,561.89 L132.49,575.15 L140.84,592.22 L149.19,594.83 L157.55,591.82 L165.91,591.82 L174.26,600.05 L182.62,608.08 L190.97,607.68 L199.32,606.48 L207.68,602.66 L216.03,612.10 L224.39,617.92 L232.75,619.73 L241.10,605.07 L249.46,588.00 L257.81,585.39 L266.17,597.44 L274.52,609.49 L282.88,609.49 L291.23,606.07 L299.59,612.10 L307.94,611.10 L316.30,612.10 L324.65,605.07 L333.00,609.49 L341.36,614.51 L349.72,617.92 L358.07,628.37 L366.43,625.35 L374.78,623.95 L383.13,623.95 L391.49,633.99 L399.85,645.44 L408.20,659.09 L416.56,663.51 L424.91,666.93 L433.27,655.68 L441.62,648.05 L449.98,640.82 L458.33,643.63 L466.69,650.66 L475.04,656.48 L483.40,658.29 L491.75,656.28 L500.11,654.07 L508.46,650.06 L516.82,646.24 L525.17,639.41 L533.53,636.00 L541.88,624.35 L550.24,612.10 L558.59,600.05 L566.95,586.19 L575.30,578.56 L583.65,572.94 L592.01,581.17 L600.37,587.60 L608.72,591.82 L617.08,599.65 L625.43,603.46 L633.79,598.24 L642.14,585.39 L650.50,571.73 L658.85,565.71 L667.21,569.93 L675.56,579.36 L683.92,585.39 L692.27,591.01 L700.62,588.00 L708.98,584.59 L717.34,567.52 L725.69,560.49 L734.05,558.08 L742.40,557.07 L750.75,552.85 L759.11,535.78 L767.47,529.36 L775.82,521.93 L784.18,524.14 L792.53,535.18 L800.88,541.81 L809.24,553.66 L817.60,560.49 L825.95,567.52 L834.31,560.49 L842.66,552.25 L851.01,552.85 L859.37,565.71 L867.73,577.96 L876.08,573.34 L884.44,563.10 L892.79,553.66 L901.15,548.84 L909.50,547.23 L917.86,538.60 L926.21,531.77 L934.57,526.35 L942.92,536.59 L951.28,546.43 L959.63,551.65 L967.99,550.04 L976.34,551.05 L984.70,552.25 L993.05,556.27 L1001.41,558.88 L1009.76,561.89 L1018.12,560.49 L1026.47,557.47 L1034.83,555.87 L1043.18,562.70 L1051.54,575.75 L1059.89,588.80 L1068.24,594.43 L1076.60,590.01 L1084.95,588.80 L1093.31,587.20 L1101.66,592.22 L1110.02,600.05 L1118.38,602.86 L1126.73,605.07" stroke="#0000ff" stroke-width="2.1" fill="none" stroke-linejoin="round" stroke-linecap="square"/>
<path d="M74.00,541.41 L82.36,535.78 L90.71,541.01 L99.06,551.65 L107.42,556.67 L115.78,559.68 L124.13,562.90 L132.49,568.32 L140.84,580.57 L149.19,592.62 L157.55,610.29 L165.91,619.53 L174.26,623.35 L182.62,619.53 L190.97,612.50 L199.32,614.11 L207.68,624.15 L216.03,637.40 L224.39,640.22 L232.75,627.16 L241.10,605.47 L249.46,591.21 L257.81,594.83 L266.17,611.30 L274.52,620.33 L282.88,617.92 L291.23,609.09 L299.59,601.25 L307.94,592.22 L316.30,596.43 L324.65,604.67 L333.00,610.89 L341.36,608.89 L349.72,610.09 L358.07,621.14 L366.43,629.37 L374.78,632.79 L383.13,632.79 L391.49,635.80 L399.85,643.83 L408.20,659.29 L416.56,674.76 L424.91,679.18 L433.27,672.55 L441.62,659.29 L449.98,645.84 L458.33,642.02 L466.69,648.45 L475.04,656.28 L483.40,654.88 L491.75,649.25 L500.11,648.85 L508.46,652.67 L516.82,652.27 L525.17,645.44 L533.53,634.39 L541.88,620.33 L550.24,607.68 L558.59,594.83 L566.95,582.18 L575.30,573.14 L583.65,574.95 L592.01,582.58 L600.37,588.60 L608.72,590.01 L617.08,594.23 L625.43,594.83 L633.79,589.41 L642.14,583.98 L650.50,584.39 L658.85,588.60 L667.21,592.22 L675.56,591.61 L683.92,592.42 L692.27,594.23 L700.62,590.41 L708.98,580.17 L717.34,568.72 L725.69,561.89 L734.05,555.87 L742.40,545.42 L750.75,535.38 L759.11,525.94 L767.47,519.52 L775.82,515.30 L784.18,515.30 L792.53,523.94 L800.88,537.79 L809.24,555.06 L817.60,567.11 L825.95,574.95 L834.31,567.11 L842.66,554.86 L851.01,543.21 L859.37,542.61 L867.73,545.02 L876.08,540.20 L884.44,536.39 L892.79,533.58 L901.15,535.58 L909.50,535.58 L917.86,529.36 L926.21,525.94 L934.57,528.55 L942.92,538.60 L951.28,545.83 L959.63,547.63 L967.99,546.83 L976.34,546.83 L984.70,549.64 L993.05,557.07 L1001.41,560.08 L1009.76,555.47 L1018.12,547.63 L1026.47,551.05 L1034.83,566.31 L1043.18,584.79 L1051.54,598.64 L1059.89,604.27 L1068.24,606.07" stroke="#000" stroke-width="3" fill="none" stroke-linejoin="round" stroke-linecap="square"/>
</g>
<rect x="74.5" y="467.5" width="1111" height="241.0" fill="none" stroke="#000" stroke-width="1.1"/>
<path d="M74.5,708.5h-4.9M74.5,688.5h-4.9M74.5,668.5h-4.9M74.5,647.5h-4.9M74.5,627.5h-4.9M74.5,607.5h-4.9M74.5,587.5h-4.9M74.5,567.5h-4.9M74.5,547.5h-4.9M74.5,527.5h-4.9M74.5,507.5h-4.9M74.5,487.5h-4.9M74.5,467.5h-4.9M199.5,708.5v4.9M316.5,708.5v4.9M458.5,708.5v4.9M575.5,708.5v4.9M692.5,708.5v4.9M809.5,708.5v4.9M951.5,708.5v4.9M1068.5,708.5v4.9" stroke="#000" stroke-width="1.1" fill="none"/>
<text x="63.6" y="713.25" font-size="13.9" text-anchor="end" fill="#000">6</text>
<rect x="45.2" y="708.30" width="8.8" height="1.3" fill="#000"/>
<text x="63.6" y="693.16" font-size="13.9" text-anchor="end" fill="#000">5</text>
<rect x="45.2" y="688.22" width="8.8" height="1.3" fill="#000"/>
<text x="63.6" y="673.08" font-size="13.9" text-anchor="end" fill="#000">4</text>
<rect x="45.2" y="668.13" width="8.8" height="1.3" fill="#000"/>
<text x="63.6" y="653.00" font-size="13.9" text-anchor="end" fill="#000">3</text>
<rect x="45.2" y="648.05" width="8.8" height="1.3" fill="#000"/>
<text x="63.6" y="632.92" font-size="13.9" text-anchor="end" fill="#000">2</text>
<rect x="45.2" y="627.97" width="8.8" height="1.3" fill="#000"/>
<text x="63.6" y="612.83" font-size="13.9" text-anchor="end" fill="#000">1</text>
<rect x="45.2" y="607.88" width="8.8" height="1.3" fill="#000"/>
<text x="63.6" y="592.75" font-size="13.9" text-anchor="end" fill="#000">0</text>
<text x="63.6" y="572.67" font-size="13.9" text-anchor="end" fill="#000">1</text>
<text x="63.6" y="552.58" font-size="13.9" text-anchor="end" fill="#000">2</text>
<text x="63.6" y="532.50" font-size="13.9" text-anchor="end" fill="#000">3</text>
<text x="63.6" y="512.42" font-size="13.9" text-anchor="end" fill="#000">4</text>
<text x="63.6" y="492.34" font-size="13.9" text-anchor="end" fill="#000">5</text>
<text x="63.6" y="472.25" font-size="13.9" text-anchor="end" fill="#000">6</text>
<text x="199.32" y="728.80" font-size="13.9" text-anchor="middle" fill="#000" textLength="43.50" lengthAdjust="spacingAndGlyphs">01 Jan</text>
<text x="316.30" y="728.80" font-size="13.9" text-anchor="middle" fill="#000" textLength="43.50" lengthAdjust="spacingAndGlyphs">15 Jan</text>
<text x="458.33" y="728.80" font-size="13.9" text-anchor="middle" fill="#000" textLength="47.44" lengthAdjust="spacingAndGlyphs">01 Feb</text>
<text x="575.30" y="728.80" font-size="13.9" text-anchor="middle" fill="#000" textLength="47.44" lengthAdjust="spacingAndGlyphs">15 Feb</text>
<text x="692.27" y="728.80" font-size="13.9" text-anchor="middle" fill="#000" textLength="48.29" lengthAdjust="spacingAndGlyphs">01 Mar</text>
<text x="809.24" y="728.80" font-size="13.9" text-anchor="middle" fill="#000" textLength="48.29" lengthAdjust="spacingAndGlyphs">15 Mar</text>
<text x="951.28" y="728.80" font-size="13.9" text-anchor="middle" fill="#000" textLength="46.12" lengthAdjust="spacingAndGlyphs">01 Apr</text>
<text x="1068.24" y="728.80" font-size="13.9" text-anchor="middle" fill="#000" textLength="46.12" lengthAdjust="spacingAndGlyphs">15 Apr</text>
<text x="75.00" y="784.60" font-size="25" fill="#000" textLength="355.00" lengthAdjust="spacingAndGlyphs">1000mb Z (10 day Forecast)</text>
<text x="814.00" y="784.60" font-size="20.83" fill="#000" textLength="370.00" lengthAdjust="spacingAndGlyphs">mean=-0.1265; cor(w/obs)=0.8836</text>
<text transform="translate(34,917.7) rotate(-90)" text-anchor="middle" font-size="23.5" fill="#000" textLength="60" lengthAdjust="spacingAndGlyphs">Index</text>
<clipPath id="c2"><rect x="74.0" y="795.00" width="1111.2" height="240.00"/></clipPath>
<g clip-path="url(#c2)">
<path d="M74.00,870.50 L82.36,871.30 L90.71,875.50 L99.06,879.10 L107.42,877.30 L115.78,879.10 L124.13,881.50 L132.49,881.10 L140.84,883.30 L149.19,890.10 L157.55,905.50 L165.91,909.10 L174.26,902.10 L182.62,891.10 L190.97,890.10 L199.32,891.90 L207.68,894.70 L216.03,893.10 L224.39,899.90 L232.75,898.70 L241.10,895.30 L249.46,888.10 L257.81,882.70 L266.17,896.10 L274.52,898.70 L282.88,903.90 L291.23,897.50 L299.59,896.10 L307.94,894.10 L316.30,893.50 L324.65,908.10 L333.00,915.10 L341.36,919.90 L349.72,913.70 L358.07,918.70 L366.43,922.30 L374.78,918.70 L383.13,916.30 L391.49,915.30 L399.85,925.30 L408.20,936.50 L416.56,949.30 L424.91,955.30 L433.27,959.90 L441.62,955.30 L449.98,951.90 L458.33,939.10 L466.69,928.70 L475.04,937.30 L483.40,953.10 L491.75,969.90 L500.11,966.50 L508.46,963.90 L516.82,962.70 L525.17,967.30 L533.53,954.10 L541.88,934.70 L550.24,910.30 L558.59,899.90 L566.95,898.30 L575.30,899.90 L583.65,894.50 L592.01,888.50 L600.37,889.70 L608.72,892.30 L617.08,897.50 L625.43,894.70 L633.79,897.90 L642.14,896.50 L650.50,893.50 L658.85,880.70 L667.21,867.90 L675.56,870.50 L683.92,880.70 L692.27,890.10 L700.62,892.70 L708.98,886.70 L717.34,885.50 L725.69,881.50 L734.05,880.70 L742.40,875.90 L750.75,871.30 L759.11,873.10 L767.47,872.10 L775.82,870.10 L784.18,858.50 L792.53,851.50 L800.88,847.30 L809.24,850.70 L817.60,857.10 L825.95,863.90 L834.31,868.30 L842.66,860.90 L851.01,851.50 L859.37,849.10 L867.73,866.90 L876.08,884.10 L884.44,897.50 L892.79,893.10 L901.15,878.10 L909.50,866.90 L917.86,862.70 L926.21,857.50 L934.57,855.90 L942.92,855.90 L951.28,870.50 L959.63,875.30 L967.99,877.30 L976.34,872.10 L984.70,866.70 L993.05,866.10 L1001.41,866.70 L1009.76,867.30 L1018.12,867.90 L1026.47,873.10 L1034.83,878.10 L1043.18,879.90 L1051.54,881.50 L1059.89,880.30 L1068.24,882.70 L1076.60,884.10 L1084.95,889.30 L1093.31,895.90 L1101.66,902.70 L1110.02,911.50 L1118.38,911.30 L1126.73,913.70 L1135.09,915.90 L1143.44,920.10 L1151.80,921.10 L1151.80,962.10 L1143.44,959.30 L1135.09,955.30 L1126.73,951.10 L1118.38,945.90 L1110.02,940.70 L1101.66,930.50 L1093.31,927.30 L1084.95,924.90 L1076.60,923.90 L1068.24,923.30 L1059.89,922.70 L1051.54,926.70 L1043.18,926.10 L1034.83,921.90 L1026.47,913.30 L1018.12,906.10 L1009.76,904.70 L1001.41,902.10 L993.05,905.50 L984.70,911.90 L976.34,922.70 L967.99,926.10 L959.63,916.70 L951.28,910.70 L942.92,899.90 L934.57,897.50 L926.21,896.10 L917.86,902.70 L909.50,907.30 L901.15,916.70 L892.79,932.10 L884.44,940.70 L876.08,927.10 L867.73,908.10 L859.37,892.30 L851.01,894.10 L842.66,902.70 L834.31,910.30 L825.95,904.30 L817.60,900.50 L809.24,897.50 L800.88,896.50 L792.53,900.90 L784.18,903.30 L775.82,910.30 L767.47,909.50 L759.11,909.50 L750.75,910.30 L742.40,912.90 L734.05,920.10 L725.69,925.30 L717.34,932.10 L708.98,935.90 L700.62,940.30 L692.27,935.50 L683.92,925.30 L675.56,915.10 L667.21,912.50 L658.85,928.70 L650.50,945.10 L642.14,947.90 L633.79,942.50 L625.43,937.70 L617.08,936.50 L608.72,933.50 L600.37,931.30 L592.01,930.50 L583.65,932.10 L575.30,935.50 L566.95,938.10 L558.59,944.10 L550.24,957.90 L541.88,975.10 L533.53,1000.70 L525.17,1007.50 L516.82,1005.10 L508.46,1001.50 L500.11,1002.50 L491.75,1000.70 L483.40,992.30 L475.04,981.10 L466.69,979.30 L458.33,984.50 L449.98,989.50 L441.62,992.30 L433.27,996.50 L424.91,999.90 L416.56,999.90 L408.20,985.30 L399.85,976.70 L391.49,970.70 L383.13,975.90 L374.78,980.10 L366.43,984.90 L358.07,979.30 L349.72,974.10 L341.36,973.30 L333.00,967.30 L324.65,957.10 L316.30,947.30 L307.94,950.10 L299.59,951.30 L291.23,950.10 L282.88,952.30 L274.52,946.30 L266.17,946.30 L257.81,941.50 L249.46,954.10 L241.10,957.10 L232.75,960.50 L224.39,959.50 L216.03,954.10 L207.68,948.50 L199.32,942.10 L190.97,943.30 L182.62,946.70 L174.26,953.50 L165.91,957.10 L157.55,946.70 L149.19,934.70 L140.84,924.50 L132.49,923.90 L124.13,920.10 L115.78,917.10 L107.42,915.10 L99.06,916.30 L90.71,917.50 L82.36,919.30 L74.00,921.90 Z" fill="#ffdf3c" stroke="#ffd92a" stroke-width="0.9"/>
<path d="M74.0,1014.5H1185.2M74.0,994.5H1185.2M74.0,974.5H1185.2M74.0,954.5H1185.2M74.0,934.5H1185.2M74.0,894.5H1185.2M74.0,874.5H1185.2M74.0,854.5H1185.2M74.0,834.5H1185.2M74.0,814.5H1185.2M199.5,794.5V1034.5M316.5,794.5V1034.5M458.5,794.5V1034.5M575.5,794.5V1034.5M692.5,794.5V1034.5M809.5,794.5V1034.5M951.5,794.5V1034.5M1068.5,794.5V1034.5" stroke="#b0b0b0" stroke-width="1.0" stroke-dasharray="4.1,1.8" fill="none"/>
<path d="M74.0,914.5H1185.2" stroke="#000" stroke-width="1.0" fill="none"/>
<path d="M74.00,832.30 L82.36,832.30 L90.71,842.10 L99.06,853.30 L107.42,851.30 L115.78,854.10 L124.13,855.30 L132.49,859.30 L140.84,862.70 L149.19,866.10 L157.55,882.10 L165.91,875.30 L174.26,868.70 L182.62,857.50 L190.97,872.10 L199.32,874.30 L207.68,864.50 L216.03,862.70 L224.39,868.30 L232.75,863.50 L241.10,853.30 L249.46,844.70 L257.81,854.10 L266.17,871.90 L274.52,873.50 L282.88,883.30 L291.23,871.90 L299.59,869.50 L307.94,862.30 L316.30,862.70 L324.65,884.50 L333.00,887.50 L341.36,892.30 L349.72,885.50 L358.07,894.50 L366.43,899.90 L374.78,890.70 L383.13,883.90 L391.49,883.90 L399.85,892.30 L408.20,905.50 L416.56,923.90 L424.91,927.90 L433.27,935.30 L441.62,923.90 L449.98,927.30 L458.33,901.70 L466.69,892.30 L475.04,899.30 L483.40,922.70 L491.75,946.30 L500.11,934.70 L508.46,937.70 L516.82,935.90 L525.17,949.70 L533.53,937.30 L541.88,917.10 L550.24,886.70 L558.59,882.50 L566.95,878.10 L575.30,882.50 L583.65,871.90 L592.01,870.50 L600.37,872.10 L608.72,876.90 L617.08,878.10 L625.43,874.30 L633.79,875.30 L642.14,869.50 L650.50,867.30 L658.85,853.30 L667.21,851.90 L675.56,849.50 L683.92,857.50 L692.27,862.70 L700.62,870.10 L708.98,867.90 L717.34,870.10 L725.69,868.30 L734.05,869.50 L742.40,859.90 L750.75,855.90 L759.11,854.10 L767.47,849.50 L775.82,845.50 L784.18,835.30 L792.53,828.90 L800.88,821.50 L809.24,824.10 L817.60,830.70 L825.95,842.10 L834.31,848.50 L842.66,841.30 L851.01,834.10 L859.37,828.50 L867.73,843.10 L876.08,862.30 L884.44,871.90 L892.79,870.90 L901.15,854.10 L909.50,845.50 L917.86,842.10 L926.21,839.90 L934.57,840.30 L942.92,839.30 L951.28,846.50 L959.63,852.50 L967.99,849.90 L976.34,848.10 L984.70,845.50 L993.05,852.50 L1001.41,850.70 L1009.76,846.10 L1018.12,847.30 L1026.47,853.30 L1034.83,861.10 L1043.18,859.90 L1051.54,862.30 L1059.89,862.30 L1068.24,863.90 L1076.60,865.70 L1084.95,869.50 L1093.31,881.50 L1101.66,889.70 L1110.02,893.10 L1118.38,883.30 L1126.73,884.50 L1135.09,893.10 L1143.44,895.30 L1151.80,891.10" stroke="#ff0000" stroke-width="1.1" fill="none" stroke-linejoin="round"/>
<path d="M74.00,948.50 L82.36,945.50 L90.71,934.30 L99.06,937.70 L107.42,935.30 L115.78,940.70 L124.13,936.50 L132.49,941.10 L140.84,942.10 L149.19,956.10 L157.55,965.50 L165.91,975.90 L174.26,971.50 L182.62,968.10 L190.97,966.50 L199.32,964.70 L207.68,971.50 L216.03,979.30 L224.39,986.70 L232.75,987.90 L241.10,979.30 L249.46,979.70 L257.81,965.10 L266.17,967.30 L274.52,970.30 L282.88,984.90 L291.23,986.70 L299.59,990.50 L307.94,987.30 L316.30,984.50 L324.65,984.50 L333.00,990.50 L341.36,994.30 L349.72,994.30 L358.07,1005.10 L366.43,1014.10 L374.78,1006.30 L383.13,1000.30 L391.49,998.70 L399.85,1006.70 L408.20,1010.10 L416.56,1019.50 L424.91,1019.30 L433.27,1015.30 L441.62,1009.30 L449.98,1015.30 L458.33,1010.10 L466.69,1004.50 L475.04,1000.70 L483.40,1011.90 L491.75,1017.10 L500.11,1020.50 L508.46,1015.30 L516.82,1020.90 L525.17,1021.70 L533.53,1024.70 L541.88,1005.10 L550.24,987.10 L558.59,970.30 L566.95,959.90 L575.30,959.90 L583.65,959.50 L592.01,957.50 L600.37,951.30 L608.72,951.90 L617.08,958.30 L625.43,965.50 L633.79,973.30 L642.14,981.10 L650.50,974.10 L658.85,950.70 L667.21,935.50 L675.56,942.10 L683.92,955.30 L692.27,969.10 L700.62,969.50 L708.98,965.50 L717.34,957.50 L725.69,956.10 L734.05,948.50 L742.40,937.70 L750.75,927.10 L759.11,924.50 L767.47,929.50 L775.82,927.90 L784.18,929.10 L792.53,925.70 L800.88,924.50 L809.24,920.10 L817.60,921.90 L825.95,925.70 L834.31,930.50 L842.66,929.50 L851.01,921.50 L859.37,921.90 L867.73,929.50 L876.08,949.30 L884.44,960.90 L892.79,954.10 L901.15,947.90 L909.50,929.50 L917.86,929.10 L926.21,923.30 L934.57,931.30 L942.92,925.70 L951.28,932.10 L959.63,944.10 L967.99,958.10 L976.34,954.10 L984.70,936.50 L993.05,927.90 L1001.41,921.50 L1009.76,922.70 L1018.12,920.50 L1026.47,930.50 L1034.83,941.50 L1043.18,950.10 L1051.54,950.10 L1059.89,946.70 L1068.24,943.90 L1076.60,947.90 L1084.95,947.30 L1093.31,945.10 L1101.66,944.50 L1110.02,954.50 L1118.38,960.50 L1126.73,969.90 L1135.09,980.50 L1143.44,982.10 L1151.80,984.50" stroke="#ff0000" stroke-width="1.1" fill="none" stroke-linejoin="round"/>
<path d="M74.00,896.10 L82.36,894.90 L90.71,895.90 L99.06,897.10 L107.42,895.90 L115.78,897.90 L124.13,900.50 L132.49,902.10 L140.84,903.90 L149.19,911.50 L157.55,925.30 L165.91,933.10 L174.26,927.90 L182.62,918.50 L190.97,915.10 L199.32,915.90 L207.68,920.50 L216.03,922.30 L224.39,929.10 L232.75,929.50 L241.10,926.10 L249.46,920.10 L257.81,911.90 L266.17,921.10 L274.52,922.30 L282.88,927.90 L291.23,922.70 L299.59,923.30 L307.94,921.50 L316.30,919.90 L324.65,932.10 L333.00,941.10 L341.36,946.30 L349.72,942.70 L358.07,949.30 L366.43,953.50 L374.78,949.70 L383.13,945.90 L391.49,942.70 L399.85,951.10 L408.20,959.30 L416.56,974.10 L424.91,977.50 L433.27,978.70 L441.62,973.30 L449.98,970.30 L458.33,960.50 L466.69,952.70 L475.04,959.90 L483.40,973.70 L491.75,984.50 L500.11,983.50 L508.46,982.30 L516.82,983.50 L525.17,987.30 L533.53,978.50 L541.88,957.90 L550.24,934.30 L558.59,921.90 L566.95,917.50 L575.30,917.50 L583.65,912.50 L592.01,908.50 L600.37,909.90 L608.72,911.50 L617.08,915.90 L625.43,915.90 L633.79,920.10 L642.14,921.90 L650.50,918.10 L658.85,903.90 L667.21,889.70 L675.56,892.30 L683.92,902.10 L692.27,912.50 L700.62,915.90 L708.98,911.50 L717.34,908.10 L725.69,902.10 L734.05,899.90 L742.40,892.30 L750.75,890.10 L759.11,891.30 L767.47,890.70 L775.82,889.70 L784.18,880.70 L792.53,875.90 L800.88,870.50 L809.24,873.10 L817.60,878.70 L825.95,884.10 L834.31,889.30 L842.66,881.50 L851.01,872.10 L859.37,870.50 L867.73,885.90 L876.08,905.50 L884.44,918.70 L892.79,913.30 L901.15,898.70 L909.50,886.70 L917.86,882.50 L926.21,876.90 L934.57,878.10 L942.92,877.30 L951.28,889.30 L959.63,896.10 L967.99,902.10 L976.34,897.90 L984.70,888.50 L993.05,884.50 L1001.41,883.90 L1009.76,885.50 L1018.12,887.30 L1026.47,893.50 L1034.83,899.90 L1043.18,902.70 L1051.54,903.90 L1059.89,900.90 L1068.24,902.70 L1076.60,903.90 L1084.95,906.70 L1093.31,912.50 L1101.66,915.90 L1110.02,926.10 L1118.38,928.30 L1126.73,932.10 L1135.09,935.30 L1143.44,939.10 L1151.80,941.50" stroke="#0000ff" stroke-width="2.1" fill="none" stroke-linejoin="round" stroke-linecap="square"/>
<path d="M74.00,868.10 L82.36,862.50 L90.71,867.70 L99.06,878.30 L107.42,883.30 L115.78,886.30 L124.13,889.50 L132.49,894.90 L140.84,907.10 L149.19,919.10 L157.55,936.70 L165.91,945.90 L174.26,949.70 L182.62,945.90 L190.97,938.90 L199.32,940.50 L207.68,950.50 L216.03,963.70 L224.39,966.50 L232.75,953.50 L241.10,931.90 L249.46,917.70 L257.81,921.30 L266.17,937.70 L274.52,946.70 L282.88,944.30 L291.23,935.50 L299.59,927.70 L307.94,918.70 L316.30,922.90 L324.65,931.10 L333.00,937.30 L341.36,935.30 L349.72,936.50 L358.07,947.50 L366.43,955.70 L374.78,959.10 L383.13,959.10 L391.49,962.10 L399.85,970.10 L408.20,985.50 L416.56,1000.90 L424.91,1005.30 L433.27,998.70 L441.62,985.50 L449.98,972.10 L458.33,968.30 L466.69,974.70 L475.04,982.50 L483.40,981.10 L491.75,975.50 L500.11,975.10 L508.46,978.90 L516.82,978.50 L525.17,971.70 L533.53,960.70 L541.88,946.70 L550.24,934.10 L558.59,921.30 L566.95,908.70 L575.30,899.70 L583.65,901.50 L592.01,909.10 L600.37,915.10 L608.72,916.50 L617.08,920.70 L625.43,921.30 L633.79,915.90 L642.14,910.50 L650.50,910.90 L658.85,915.10 L667.21,918.70 L675.56,918.10 L683.92,918.90 L692.27,920.70 L700.62,916.90 L708.98,906.70 L717.34,895.30 L725.69,888.50 L734.05,882.50 L742.40,872.10 L750.75,862.10 L759.11,852.70 L767.47,846.30 L775.82,842.10 L784.18,842.10 L792.53,850.70 L800.88,864.50 L809.24,881.70 L817.60,893.70 L825.95,901.50 L834.31,893.70 L842.66,881.50 L851.01,869.90 L859.37,869.30 L867.73,871.70 L876.08,866.90 L884.44,863.10 L892.79,860.30 L901.15,862.30 L909.50,862.30 L917.86,856.10 L926.21,852.70 L934.57,855.30 L942.92,865.30 L951.28,872.50 L959.63,874.30 L967.99,873.50 L976.34,873.50 L984.70,876.30 L993.05,883.70 L1001.41,886.70 L1009.76,882.10 L1018.12,874.30 L1026.47,877.70 L1034.83,892.90 L1043.18,911.30 L1051.54,925.10 L1059.89,930.70 L1068.24,932.50" stroke="#000" stroke-width="3" fill="none" stroke-linejoin="round" stroke-linecap="square"/>
</g>
<rect x="74.5" y="794.5" width="1111" height="240.0" fill="none" stroke="#000" stroke-width="1.1"/>
<path d="M74.5,1034.5h-4.9M74.5,1014.5h-4.9M74.5,994.5h-4.9M74.5,974.5h-4.9M74.5,954.5h-4.9M74.5,934.5h-4.9M74.5,914.5h-4.9M74.5,894.5h-4.9M74.5,874.5h-4.9M74.5,854.5h-4.9M74.5,834.5h-4.9M74.5,814.5h-4.9M74.5,794.5h-4.9M199.5,1034.5v4.9M316.5,1034.5v4.9M458.5,1034.5v4.9M575.5,1034.5v4.9M692.5,1034.5v4.9M809.5,1034.5v4.9M951.5,1034.5v4.9M1068.5,1034.5v4.9" stroke="#000" stroke-width="1.1" fill="none"/>
<text x="63.6" y="1039.55" font-size="13.9" text-anchor="end" fill="#000">6</text>
<rect x="45.2" y="1034.60" width="8.8" height="1.3" fill="#000"/>
<text x="63.6" y="1019.55" font-size="13.9" text-anchor="end" fill="#000">5</text>
<rect x="45.2" y="1014.60" width="8.8" height="1.3" fill="#000"/>
<text x="63.6" y="999.55" font-size="13.9" text-anchor="end" fill="#000">4</text>
<rect x="45.2" y="994.60" width="8.8" height="1.3" fill="#000"/>
<text x="63.6" y="979.55" font-size="13.9" text-anchor="end" fill="#000">3</text>
<rect x="45.2" y="974.60" width="8.8" height="1.3" fill="#000"/>
<text x="63.6" y="959.55" font-size="13.9" text-anchor="end" fill="#000">2</text>
<rect x="45.2" y="954.60" width="8.8" height="1.3" fill="#000"/>
<text x="63.6" y="939.55" font-size="13.9" text-anchor="end" fill="#000">1</text>
<rect x="45.2" y="934.60" width="8.8" height="1.3" fill="#000"/>
<text x="63.6" y="919.55" font-size="13.9" text-anchor="end" fill="#000">0</text>
<text x="63.6" y="899.55" font-size="13.9" text-anchor="end" fill="#000">1</text>
<text x="63.6" y="879.55" font-size="13.9" text-anchor="end" fill="#000">2</text>
<text x="63.6" y="859.55" font-size="13.9" text-anchor="end" fill="#000">3</text>
<text x="63.6" y="839.55" font-size="13.9" text-anchor="end" fill="#000">4</text>
<text x="63.6" y="819.55" font-size="13.9" text-anchor="end" fill="#000">5</text>
<text x="63.6" y="799.55" font-size="13.9" text-anchor="end" fill="#000">6</text>
<text x="199.32" y="1054.80" font-size="13.9" text-anchor="middle" fill="#000" textLength="43.50" lengthAdjust="spacingAndGlyphs">01 Jan</text>
<text x="316.30" y="1054.80" font-size="13.9" text-anchor="middle" fill="#000" textLength="43.50" lengthAdjust="spacingAndGlyphs">15 Jan</text>
<text x="458.33" y="1054.80" font-size="13.9" text-anchor="middle" fill="#000" textLength="47.44" lengthAdjust="spacingAndGlyphs">01 Feb</text>
<text x="575.30" y="1054.80" font-size="13.9" text-anchor="middle" fill="#000" textLength="47.44" lengthAdjust="spacingAndGlyphs">15 Feb</text>
<text x="692.27" y="1054.80" font-size="13.9" text-anchor="middle" fill="#000" textLength="48.29" lengthAdjust="spacingAndGlyphs">01 Mar</text>
<text x="809.24" y="1054.80" font-size="13.9" text-anchor="middle" fill="#000" textLength="48.29" lengthAdjust="spacingAndGlyphs">15 Mar</text>
<text x="951.28" y="1054.80" font-size="13.9" text-anchor="middle" fill="#000" textLength="46.12" lengthAdjust="spacingAndGlyphs">01 Apr</text>
<text x="1068.24" y="1054.80" font-size="13.9" text-anchor="middle" fill="#000" textLength="46.12" lengthAdjust="spacingAndGlyphs">15 Apr</text>
<text x="75.00" y="1111.70" font-size="25" fill="#000" textLength="355.00" lengthAdjust="spacingAndGlyphs">1000mb Z (14 day Forecast)</text>
<text x="828.00" y="1111.70" font-size="20.83" fill="#000" textLength="356.00" lengthAdjust="spacingAndGlyphs">mean=-0.3101; cor(w/obs)=0.719</text>
<text transform="translate(34,1244.2) rotate(-90)" text-anchor="middle" font-size="23.5" fill="#000" textLength="60" lengthAdjust="spacingAndGlyphs">Index</text>
<clipPath id="c3"><rect x="74.0" y="1121.40" width="1111.2" height="241.00"/></clipPath>
<g clip-path="url(#c3)">
<path d="M74.00,1210.17 L82.36,1197.32 L90.71,1196.51 L99.06,1195.11 L107.42,1198.92 L115.78,1195.51 L124.13,1198.92 L132.49,1205.75 L140.84,1202.94 L149.19,1200.13 L157.55,1195.51 L165.91,1206.35 L174.26,1207.56 L182.62,1208.36 L190.97,1210.97 L199.32,1213.58 L207.68,1209.37 L216.03,1200.13 L224.39,1200.73 L232.75,1210.17 L241.10,1218.61 L249.46,1223.83 L257.81,1228.65 L266.17,1230.45 L274.52,1226.84 L282.88,1222.42 L291.23,1221.22 L299.59,1225.84 L307.94,1223.83 L316.30,1220.41 L324.65,1213.18 L333.00,1219.01 L341.36,1221.22 L349.72,1222.22 L358.07,1224.63 L366.43,1232.06 L374.78,1235.07 L383.13,1233.87 L391.49,1233.27 L399.85,1231.46 L408.20,1234.07 L416.56,1234.47 L424.91,1244.71 L433.27,1247.52 L441.62,1253.35 L449.98,1249.93 L458.33,1249.13 L466.69,1251.54 L475.04,1254.75 L483.40,1258.17 L491.75,1257.77 L500.11,1261.58 L508.46,1274.44 L516.82,1288.09 L525.17,1294.12 L533.53,1282.07 L541.88,1277.85 L550.24,1275.64 L558.59,1269.21 L566.95,1244.51 L575.30,1225.84 L583.65,1216.20 L592.01,1218.40 L600.37,1220.01 L608.72,1217.40 L617.08,1217.40 L625.43,1213.58 L633.79,1212.78 L642.14,1208.76 L650.50,1210.17 L658.85,1206.76 L667.21,1206.96 L675.56,1206.96 L683.92,1209.37 L692.27,1200.13 L700.62,1194.30 L708.98,1193.90 L717.34,1199.93 L725.69,1202.34 L734.05,1204.55 L742.40,1201.53 L750.75,1204.55 L759.11,1204.95 L767.47,1209.77 L775.82,1205.75 L784.18,1200.13 L792.53,1194.30 L800.88,1190.89 L809.24,1192.70 L817.60,1191.69 L825.95,1191.69 L834.31,1190.89 L842.66,1190.89 L851.01,1191.69 L859.37,1191.69 L867.73,1189.89 L876.08,1186.07 L884.44,1182.26 L892.79,1186.07 L901.15,1198.52 L909.50,1213.58 L917.86,1215.59 L926.21,1214.39 L934.57,1210.17 L942.92,1209.37 L951.28,1207.56 L959.63,1208.16 L967.99,1212.18 L976.34,1216.20 L984.70,1217.00 L993.05,1214.39 L1001.41,1209.37 L1009.76,1201.53 L1018.12,1193.90 L1026.47,1192.10 L1034.83,1193.30 L1043.18,1197.72 L1051.54,1200.73 L1059.89,1207.56 L1068.24,1214.39 L1076.60,1218.61 L1084.95,1221.22 L1093.31,1212.78 L1101.66,1209.77 L1110.02,1209.37 L1118.38,1219.01 L1126.73,1231.66 L1135.09,1239.29 L1143.44,1246.92 L1151.80,1241.90 L1160.15,1238.89 L1168.51,1237.28 L1176.86,1240.70 L1185.22,1240.90 L1185.22,1283.07 L1176.86,1283.47 L1168.51,1281.26 L1160.15,1285.88 L1151.80,1286.89 L1143.44,1287.69 L1135.09,1279.06 L1126.73,1271.02 L1118.38,1263.19 L1110.02,1257.77 L1101.66,1261.98 L1093.31,1268.81 L1084.95,1277.85 L1076.60,1275.24 L1068.24,1267.61 L1059.89,1259.78 L1051.54,1255.56 L1043.18,1254.96 L1034.83,1245.32 L1026.47,1246.92 L1018.12,1248.73 L1009.76,1258.17 L1001.41,1263.59 L993.05,1265.00 L984.70,1267.61 L976.34,1269.82 L967.99,1268.01 L959.63,1262.39 L951.28,1257.37 L942.92,1264.60 L934.57,1270.42 L926.21,1279.06 L917.86,1275.24 L909.50,1270.22 L901.15,1252.55 L892.79,1243.11 L884.44,1237.48 L876.08,1238.89 L867.73,1239.29 L859.37,1241.90 L851.01,1245.32 L842.66,1246.92 L834.31,1246.52 L825.95,1246.12 L817.60,1248.13 L809.24,1251.54 L800.88,1253.35 L792.53,1255.56 L784.18,1260.18 L775.82,1262.99 L767.47,1265.80 L759.11,1263.19 L750.75,1265.00 L742.40,1261.58 L734.05,1263.59 L725.69,1261.98 L717.34,1259.78 L708.98,1252.55 L700.62,1253.75 L692.27,1258.97 L683.92,1271.42 L675.56,1271.42 L667.21,1265.40 L658.85,1261.98 L650.50,1258.97 L642.14,1262.39 L633.79,1268.41 L625.43,1271.42 L617.08,1277.05 L608.72,1274.44 L600.37,1277.85 L592.01,1269.82 L583.65,1273.03 L575.30,1285.28 L566.95,1302.75 L558.59,1318.22 L550.24,1330.47 L541.88,1337.90 L533.53,1343.92 L525.17,1350.75 L516.82,1340.51 L508.46,1330.07 L500.11,1320.23 L491.75,1314.80 L483.40,1310.99 L475.04,1306.17 L466.69,1312.19 L458.33,1314.40 L449.98,1312.59 L441.62,1309.58 L433.27,1306.97 L424.91,1308.18 L416.56,1303.56 L408.20,1305.36 L399.85,1306.97 L391.49,1307.77 L383.13,1306.17 L374.78,1304.36 L366.43,1302.95 L358.07,1296.73 L349.72,1290.70 L341.36,1282.07 L333.00,1278.45 L324.65,1283.07 L316.30,1294.12 L307.94,1297.53 L299.59,1296.13 L291.23,1288.09 L282.88,1293.31 L274.52,1297.13 L266.17,1303.56 L257.81,1295.52 L249.46,1287.29 L241.10,1279.66 L232.75,1281.26 L224.39,1277.25 L216.03,1281.26 L207.68,1282.07 L199.32,1286.49 L190.97,1282.07 L182.62,1277.85 L174.26,1273.63 L165.91,1269.21 L157.55,1265.00 L149.19,1265.80 L140.84,1265.40 L132.49,1271.02 L124.13,1268.81 L115.78,1270.22 L107.42,1264.19 L99.06,1254.96 L90.71,1254.75 L82.36,1265.00 L74.00,1276.04 Z" fill="#ffdf3c" stroke="#ffd92a" stroke-width="0.9"/>
<path d="M74.0,1341.5H1185.2M74.0,1321.5H1185.2M74.0,1301.5H1185.2M74.0,1281.5H1185.2M74.0,1261.5H1185.2M74.0,1221.5H1185.2M74.0,1201.5H1185.2M74.0,1181.5H1185.2M74.0,1161.5H1185.2M74.0,1140.5H1185.2M199.5,1120.5V1361.5M316.5,1120.5V1361.5M458.5,1120.5V1361.5M575.5,1120.5V1361.5M692.5,1120.5V1361.5M809.5,1120.5V1361.5M951.5,1120.5V1361.5M1068.5,1120.5V1361.5" stroke="#b0b0b0" stroke-width="1.0" stroke-dasharray="4.1,1.8" fill="none"/>
<path d="M74.0,1241.5H1185.2" stroke="#000" stroke-width="1.0" fill="none"/>
<path d="M74.00,1187.08 L82.36,1174.42 L90.71,1175.03 L99.06,1169.00 L107.42,1166.39 L115.78,1153.54 L124.13,1163.78 L132.49,1165.18 L140.84,1162.37 L149.19,1151.53 L157.55,1154.94 L165.91,1173.22 L174.26,1180.05 L182.62,1177.84 L190.97,1177.64 L199.32,1170.41 L207.68,1162.17 L216.03,1148.72 L224.39,1160.16 L232.75,1172.01 L241.10,1181.05 L249.46,1172.01 L257.81,1175.43 L266.17,1175.83 L274.52,1186.07 L282.88,1184.06 L291.23,1190.49 L299.59,1190.89 L307.94,1180.05 L316.30,1176.63 L324.65,1181.05 L333.00,1200.73 L341.36,1199.53 L349.72,1186.47 L358.07,1185.27 L366.43,1190.49 L374.78,1179.24 L383.13,1174.42 L391.49,1168.20 L399.85,1187.08 L408.20,1191.69 L416.56,1196.31 L424.91,1209.77 L433.27,1215.19 L441.62,1223.43 L449.98,1219.01 L458.33,1216.20 L466.69,1220.41 L475.04,1222.42 L483.40,1217.80 L491.75,1213.99 L500.11,1216.60 L508.46,1241.90 L516.82,1248.73 L525.17,1254.35 L533.53,1246.92 L541.88,1243.31 L550.24,1244.51 L558.59,1242.30 L566.95,1220.01 L575.30,1200.13 L583.65,1181.85 L592.01,1186.47 L600.37,1181.05 L608.72,1178.44 L617.08,1183.06 L625.43,1187.08 L633.79,1185.87 L642.14,1188.68 L650.50,1184.06 L658.85,1175.43 L667.21,1167.19 L675.56,1167.59 L683.92,1174.42 L692.27,1169.80 L700.62,1166.39 L708.98,1167.59 L717.34,1164.78 L725.69,1165.99 L734.05,1162.37 L742.40,1166.99 L750.75,1174.22 L759.11,1182.66 L767.47,1185.27 L775.82,1179.24 L784.18,1165.99 L792.53,1162.17 L800.88,1157.75 L809.24,1163.58 L817.60,1160.77 L825.95,1159.56 L834.31,1156.95 L842.66,1152.13 L851.01,1155.54 L859.37,1162.17 L867.73,1169.40 L876.08,1161.77 L884.44,1153.94 L892.79,1154.94 L901.15,1169.00 L909.50,1180.05 L917.86,1184.46 L926.21,1185.87 L934.57,1189.49 L942.92,1187.08 L951.28,1185.87 L959.63,1181.25 L967.99,1184.67 L976.34,1183.46 L984.70,1184.06 L993.05,1179.64 L1001.41,1178.44 L1009.76,1171.61 L1018.12,1169.40 L1026.47,1166.99 L1034.83,1169.40 L1043.18,1175.03 L1051.54,1178.44 L1059.89,1181.85 L1068.24,1182.66 L1076.60,1181.25 L1084.95,1188.28 L1093.31,1186.07 L1101.66,1188.28 L1110.02,1188.68 L1118.38,1198.12 L1126.73,1213.58 L1135.09,1218.40 L1143.44,1213.99 L1151.80,1211.58 L1160.15,1211.98 L1168.51,1209.77 L1176.86,1209.37 L1185.22,1205.35" stroke="#ff0000" stroke-width="1.1" fill="none" stroke-linejoin="round"/>
<path d="M74.00,1308.78 L82.36,1302.35 L90.71,1292.51 L99.06,1304.76 L107.42,1317.21 L115.78,1318.22 L124.13,1306.97 L132.49,1300.14 L140.84,1300.54 L149.19,1292.11 L157.55,1296.13 L165.91,1308.78 L174.26,1322.43 L182.62,1320.63 L190.97,1315.61 L199.32,1311.59 L207.68,1310.38 L216.03,1315.00 L224.39,1314.60 L232.75,1314.40 L241.10,1311.19 L249.46,1320.23 L257.81,1335.29 L266.17,1342.12 L274.52,1336.69 L282.88,1345.53 L291.23,1339.10 L299.59,1345.93 L307.94,1333.48 L316.30,1336.09 L324.65,1328.66 L333.00,1322.43 L341.36,1316.41 L349.72,1324.64 L358.07,1329.87 L366.43,1345.93 L374.78,1340.11 L383.13,1339.51 L391.49,1337.90 L399.85,1341.31 L408.20,1344.12 L416.56,1342.92 L424.91,1341.31 L433.27,1337.90 L441.62,1341.31 L449.98,1348.14 L458.33,1348.74 L466.69,1347.54 L475.04,1334.48 L483.40,1339.51 L491.75,1340.51 L500.11,1345.53 L508.46,1350.75 L516.82,1356.98 L525.17,1366.01 L533.53,1370.03 L541.88,1366.01 L550.24,1359.99 L558.59,1346.94 L566.95,1345.13 L575.30,1322.43 L583.65,1307.17 L592.01,1299.54 L600.37,1305.77 L608.72,1310.38 L617.08,1306.17 L625.43,1304.16 L633.79,1290.70 L642.14,1289.30 L650.50,1282.07 L658.85,1292.71 L667.21,1296.13 L675.56,1302.35 L683.92,1297.53 L692.27,1292.71 L700.62,1289.30 L708.98,1293.31 L717.34,1294.12 L725.69,1292.11 L734.05,1292.51 L742.40,1292.11 L750.75,1300.14 L759.11,1294.12 L767.47,1296.13 L775.82,1288.90 L784.18,1288.70 L792.53,1281.26 L800.88,1275.64 L809.24,1274.84 L817.60,1269.21 L825.95,1272.63 L834.31,1272.23 L842.66,1275.24 L851.01,1270.42 L859.37,1273.23 L867.73,1271.42 L876.08,1273.23 L884.44,1264.19 L892.79,1270.42 L901.15,1281.26 L909.50,1296.73 L917.86,1302.75 L926.21,1311.19 L934.57,1300.14 L942.92,1288.70 L951.28,1286.49 L959.63,1295.92 L967.99,1300.95 L976.34,1289.10 L984.70,1288.70 L993.05,1285.88 L1001.41,1290.70 L1009.76,1288.09 L1018.12,1277.05 L1026.47,1272.23 L1034.83,1267.61 L1043.18,1281.26 L1051.54,1279.46 L1059.89,1282.07 L1068.24,1293.31 L1076.60,1309.58 L1084.95,1313.80 L1093.31,1311.19 L1101.66,1294.52 L1110.02,1287.69 L1118.38,1280.46 L1126.73,1286.49 L1135.09,1300.95 L1143.44,1305.77 L1151.80,1306.37 L1160.15,1302.35 L1168.51,1299.54 L1176.86,1301.35 L1185.22,1297.93" stroke="#ff0000" stroke-width="1.1" fill="none" stroke-linejoin="round"/>
<path d="M74.00,1243.11 L82.36,1231.06 L90.71,1224.63 L99.06,1224.63 L107.42,1231.46 L115.78,1232.46 L124.13,1233.27 L132.49,1238.49 L140.84,1233.27 L149.19,1232.46 L157.55,1229.25 L165.91,1238.89 L174.26,1241.30 L182.62,1243.11 L190.97,1246.12 L199.32,1249.13 L207.68,1244.71 L216.03,1240.09 L224.39,1238.89 L232.75,1244.71 L241.10,1248.13 L249.46,1254.75 L257.81,1262.39 L266.17,1266.40 L274.52,1260.78 L282.88,1257.37 L291.23,1253.75 L299.59,1260.78 L307.94,1260.18 L316.30,1257.37 L324.65,1247.52 L333.00,1248.13 L341.36,1251.54 L349.72,1256.16 L358.07,1259.78 L366.43,1266.60 L374.78,1269.21 L383.13,1269.82 L391.49,1269.82 L399.85,1268.41 L408.20,1270.22 L416.56,1269.21 L424.91,1276.65 L433.27,1277.25 L441.62,1282.07 L449.98,1281.26 L458.33,1281.26 L466.69,1281.26 L475.04,1280.06 L483.40,1284.68 L491.75,1286.89 L500.11,1290.70 L508.46,1302.75 L516.82,1313.80 L525.17,1322.84 L533.53,1314.60 L541.88,1307.77 L550.24,1302.95 L558.59,1294.12 L566.95,1277.05 L575.30,1256.36 L583.65,1244.51 L592.01,1243.51 L600.37,1248.73 L608.72,1245.32 L617.08,1246.92 L625.43,1241.90 L633.79,1239.69 L642.14,1235.07 L650.50,1233.87 L658.85,1233.87 L667.21,1236.28 L675.56,1238.89 L683.92,1239.69 L692.27,1229.25 L700.62,1223.43 L708.98,1222.42 L717.34,1229.25 L725.69,1231.46 L734.05,1233.87 L742.40,1231.46 L750.75,1234.47 L759.11,1234.07 L767.47,1237.89 L775.82,1233.87 L784.18,1229.25 L792.53,1224.23 L800.88,1221.22 L809.24,1221.82 L817.60,1219.61 L825.95,1218.40 L834.31,1218.40 L842.66,1218.40 L851.01,1218.40 L859.37,1216.60 L867.73,1214.39 L876.08,1211.78 L884.44,1208.76 L892.79,1214.39 L901.15,1225.84 L909.50,1240.90 L917.86,1245.72 L926.21,1247.52 L934.57,1238.89 L942.92,1235.48 L951.28,1231.46 L959.63,1234.47 L967.99,1239.69 L976.34,1242.30 L984.70,1241.90 L993.05,1239.29 L1001.41,1235.07 L1009.76,1229.25 L1018.12,1220.81 L1026.47,1219.01 L1034.83,1218.61 L1043.18,1225.84 L1051.54,1227.64 L1059.89,1234.47 L1068.24,1241.30 L1076.60,1246.92 L1084.95,1249.53 L1093.31,1239.69 L1101.66,1235.07 L1110.02,1233.27 L1118.38,1239.69 L1126.73,1250.34 L1135.09,1258.97 L1143.44,1266.60 L1151.80,1263.59 L1160.15,1262.39 L1168.51,1258.17 L1176.86,1261.58 L1185.22,1261.58" stroke="#0000ff" stroke-width="2.1" fill="none" stroke-linejoin="round" stroke-linecap="square"/>
<path d="M74.00,1194.91 L82.36,1189.28 L90.71,1194.51 L99.06,1205.15 L107.42,1210.17 L115.78,1213.18 L124.13,1216.40 L132.49,1221.82 L140.84,1234.07 L149.19,1246.12 L157.55,1263.79 L165.91,1273.03 L174.26,1276.85 L182.62,1273.03 L190.97,1266.00 L199.32,1267.61 L207.68,1277.65 L216.03,1290.90 L224.39,1293.72 L232.75,1280.66 L241.10,1258.97 L249.46,1244.71 L257.81,1248.33 L266.17,1264.80 L274.52,1273.83 L282.88,1271.42 L291.23,1262.59 L299.59,1254.75 L307.94,1245.72 L316.30,1249.93 L324.65,1258.17 L333.00,1264.39 L341.36,1262.39 L349.72,1263.59 L358.07,1274.64 L366.43,1282.87 L374.78,1286.29 L383.13,1286.29 L391.49,1289.30 L399.85,1297.33 L408.20,1312.79 L416.56,1328.26 L424.91,1332.68 L433.27,1326.05 L441.62,1312.79 L449.98,1299.34 L458.33,1295.52 L466.69,1301.95 L475.04,1309.78 L483.40,1308.38 L491.75,1302.75 L500.11,1302.35 L508.46,1306.17 L516.82,1305.77 L525.17,1298.94 L533.53,1287.89 L541.88,1273.83 L550.24,1261.18 L558.59,1248.33 L566.95,1235.68 L575.30,1226.64 L583.65,1228.45 L592.01,1236.08 L600.37,1242.10 L608.72,1243.51 L617.08,1247.73 L625.43,1248.33 L633.79,1242.91 L642.14,1237.48 L650.50,1237.89 L658.85,1242.10 L667.21,1245.72 L675.56,1245.11 L683.92,1245.92 L692.27,1247.73 L700.62,1243.91 L708.98,1233.67 L717.34,1222.22 L725.69,1215.39 L734.05,1209.37 L742.40,1198.92 L750.75,1188.88 L759.11,1179.44 L767.47,1173.02 L775.82,1168.80 L784.18,1168.80 L792.53,1177.44 L800.88,1191.29 L809.24,1208.56 L817.60,1220.61 L825.95,1228.45 L834.31,1220.61 L842.66,1208.36 L851.01,1196.71 L859.37,1196.11 L867.73,1198.52 L876.08,1193.70 L884.44,1189.89 L892.79,1187.08 L901.15,1189.08 L909.50,1189.08 L917.86,1182.86 L926.21,1179.44 L934.57,1182.05 L942.92,1192.10 L951.28,1199.33 L959.63,1201.13 L967.99,1200.33 L976.34,1200.33 L984.70,1203.14 L993.05,1210.57 L1001.41,1213.58 L1009.76,1208.97 L1018.12,1201.13 L1026.47,1204.55 L1034.83,1219.81 L1043.18,1238.29 L1051.54,1252.14 L1059.89,1257.77 L1068.24,1259.57" stroke="#000" stroke-width="3" fill="none" stroke-linejoin="round" stroke-linecap="square"/>
</g>
<rect x="74.5" y="1120.5" width="1111" height="241.0" fill="none" stroke="#000" stroke-width="1.1"/>
<path d="M74.5,1361.5h-4.9M74.5,1341.5h-4.9M74.5,1321.5h-4.9M74.5,1301.5h-4.9M74.5,1281.5h-4.9M74.5,1261.5h-4.9M74.5,1241.5h-4.9M74.5,1221.5h-4.9M74.5,1201.5h-4.9M74.5,1181.5h-4.9M74.5,1161.5h-4.9M74.5,1140.5h-4.9M74.5,1120.5h-4.9M199.5,1361.5v4.9M316.5,1361.5v4.9M458.5,1361.5v4.9M575.5,1361.5v4.9M692.5,1361.5v4.9M809.5,1361.5v4.9M951.5,1361.5v4.9M1068.5,1361.5v4.9" stroke="#000" stroke-width="1.1" fill="none"/>
<text x="63.6" y="1366.95" font-size="13.9" text-anchor="end" fill="#000">6</text>
<rect x="45.2" y="1362.00" width="8.8" height="1.3" fill="#000"/>
<text x="63.6" y="1346.87" font-size="13.9" text-anchor="end" fill="#000">5</text>
<rect x="45.2" y="1341.91" width="8.8" height="1.3" fill="#000"/>
<text x="63.6" y="1326.78" font-size="13.9" text-anchor="end" fill="#000">4</text>
<rect x="45.2" y="1321.83" width="8.8" height="1.3" fill="#000"/>
<text x="63.6" y="1306.70" font-size="13.9" text-anchor="end" fill="#000">3</text>
<rect x="45.2" y="1301.75" width="8.8" height="1.3" fill="#000"/>
<text x="63.6" y="1286.62" font-size="13.9" text-anchor="end" fill="#000">2</text>
<rect x="45.2" y="1281.67" width="8.8" height="1.3" fill="#000"/>
<text x="63.6" y="1266.53" font-size="13.9" text-anchor="end" fill="#000">1</text>
<rect x="45.2" y="1261.58" width="8.8" height="1.3" fill="#000"/>
<text x="63.6" y="1246.45" font-size="13.9" text-anchor="end" fill="#000">0</text>
<text x="63.6" y="1226.37" font-size="13.9" text-anchor="end" fill="#000">1</text>
<text x="63.6" y="1206.28" font-size="13.9" text-anchor="end" fill="#000">2</text>
<text x="63.6" y="1186.20" font-size="13.9" text-anchor="end" fill="#000">3</text>
<text x="63.6" y="1166.12" font-size="13.9" text-anchor="end" fill="#000">4</text>
<text x="63.6" y="1146.04" font-size="13.9" text-anchor="end" fill="#000">5</text>
<text x="63.6" y="1125.95" font-size="13.9" text-anchor="end" fill="#000">6</text>
<text x="199.32" y="1381.80" font-size="13.9" text-anchor="middle" fill="#000" textLength="43.50" lengthAdjust="spacingAndGlyphs">01 Jan</text>
<text x="316.30" y="1381.80" font-size="13.9" text-anchor="middle" fill="#000" textLength="43.50" lengthAdjust="spacingAndGlyphs">15 Jan</text>
<text x="458.33" y="1381.80" font-size="13.9" text-anchor="middle" fill="#000" textLength="47.44" lengthAdjust="spacingAndGlyphs">01 Feb</text>
<text x="575.30" y="1381.80" font-size="13.9" text-anchor="middle" fill="#000" textLength="47.44" lengthAdjust="spacingAndGlyphs">15 Feb</text>
<text x="692.27" y="1381.80" font-size="13.9" text-anchor="middle" fill="#000" textLength="48.29" lengthAdjust="spacingAndGlyphs">01 Mar</text>
<text x="809.24" y="1381.80" font-size="13.9" text-anchor="middle" fill="#000" textLength="48.29" lengthAdjust="spacingAndGlyphs">15 Mar</text>
<text x="951.28" y="1381.80" font-size="13.9" text-anchor="middle" fill="#000" textLength="46.12" lengthAdjust="spacingAndGlyphs">01 Apr</text>
<text x="1068.24" y="1381.80" font-size="13.9" text-anchor="middle" fill="#000" textLength="46.12" lengthAdjust="spacingAndGlyphs">15 Apr</text>
</svg></body></html>
